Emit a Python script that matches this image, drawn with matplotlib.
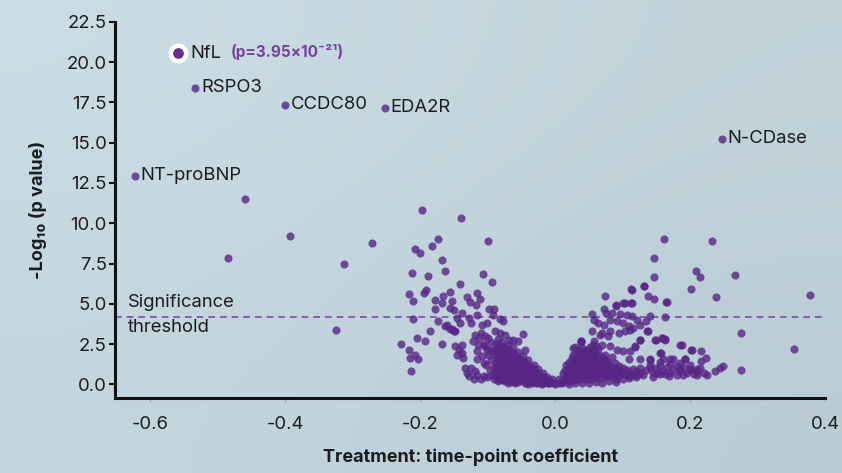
import matplotlib.pyplot as plt
import numpy as np

# labelled proteins
names = ["NfL", "RSPO3", "CCDC80", "EDA2R", "NT-proBNP", "N-CDase"]
names_x = [-0.5585, -0.533, -0.400, -0.252, -0.622, 0.247]
names_y = [20.56, 18.40, 17.35, 17.16, 12.96, 15.25]

# far outliers on the left
out_x = [-0.459, -0.393, -0.484, -0.313, -0.271, -0.324, -0.197, -0.140, -0.173, -0.183,
         -0.207, -0.200, -0.100, -0.168, -0.212, -0.188, -0.163, -0.107, -0.094, -0.141]
out_y = [11.48, 9.20, 7.84, 7.47, 8.77, 3.40, 10.82, 10.33, 9.01, 8.60,
         8.42, 8.13, 8.89, 7.74, 6.93, 6.73, 7.02, 6.83, 6.36, 6.21]

# left spread
spread_x = [-0.216, -0.211, -0.195, -0.191, -0.178, -0.166, -0.156, -0.153, -0.168, -0.178,
            -0.156, -0.150, -0.131, -0.126, -0.116, -0.111, -0.117, -0.098, -0.090, -0.092,
            -0.138, -0.146, -0.128, -0.116, -0.210, -0.173, -0.163, -0.156, -0.150, -0.186,
            -0.205, -0.193, -0.229, -0.217, -0.208, -0.215, -0.203, -0.213, -0.167, -0.048,
            -0.160, -0.153, -0.148, -0.141, -0.124, -0.108, -0.101, -0.077, -0.082, -0.148,
            -0.143, -0.138, -0.146, -0.136, -0.138, -0.133, -0.131, -0.128, -0.116, -0.106,
            -0.101]
spread_y = [5.62, 5.20, 5.64, 5.86, 5.25, 5.49, 5.75, 5.20, 5.04, 4.69,
            4.73, 4.59, 5.39, 5.08, 5.65, 5.28, 4.93, 4.68, 4.68, 4.32,
            4.42, 4.11, 4.11, 4.32, 4.07, 3.90, 3.64, 3.43, 3.29, 3.29,
            2.88, 2.68, 2.51, 2.16, 1.85, 1.65, 1.59, 0.82, 2.51, 3.13,
            3.70, 3.44, 3.30, 3.81, 3.81, 3.70, 3.81, 3.91, 4.05, 2.36,
            2.16, 1.95, 1.85, 1.64, 2.47, 1.03, 0.72, 0.51, 0.55, 0.51,
            0.47]

# left band (arm of the V)
band_x = [-0.119, -0.110, -0.104, -0.089, -0.082, -0.074, -0.069, -0.062, -0.055, -0.121,
          -0.114, -0.106, -0.101, -0.094, -0.116, -0.109, -0.116, -0.106, -0.100, -0.095,
          -0.105, -0.098, -0.100, -0.095, -0.102, -0.097, -0.093, -0.090, -0.085, -0.075,
          -0.065, -0.055, -0.045, -0.035, -0.025, -0.120, -0.110, -0.125, -0.118, -0.085,
          -0.078, -0.070, -0.062, -0.055, -0.048, -0.040, -0.032, -0.025, -0.018, -0.012,
          -0.005, -0.044, -0.060, -0.040, -0.020, -0.010, 0.000, -0.113, -0.091, -0.070]
band_y = [3.08, 3.18, 2.98, 3.29, 3.18, 3.08, 2.78, 2.78, 2.67, 2.67,
          2.47, 2.36, 2.16, 2.05, 2.05, 1.75, 1.54, 1.34, 2.90, 2.60,
          2.50, 2.20, 1.80, 1.50, 1.20, 0.90, 0.60, 0.35, 0.20, 0.18,
          0.15, 0.12, 0.10, 0.08, 0.06, 0.35, 0.30, 1.00, 0.80, 2.80,
          2.65, 2.45, 2.30, 2.00, 1.75, 1.50, 1.20, 0.95, 0.70, 0.45,
          0.30, 2.10, 0.05, 0.02, 0.00, 0.10, 0.05, 2.85, 1.10, 0.10]

# left dense core
lcore_x = [-0.088, -0.087, -0.089, -0.086, -0.088, -0.087, -0.089, -0.086,
           -0.080, -0.081, -0.079, -0.080, -0.081, -0.079, -0.080, -0.081,
           -0.072, -0.073, -0.071, -0.072, -0.073, -0.071, -0.072,
           -0.064, -0.065, -0.063, -0.064, -0.065, -0.063, -0.064,
           -0.056, -0.057, -0.055, -0.056, -0.057, -0.055,
           -0.048, -0.049, -0.047, -0.048, -0.049, -0.047,
           -0.040, -0.041, -0.039, -0.040, -0.041,
           -0.032, -0.033, -0.031, -0.032,
           -0.024, -0.025, -0.023,
           -0.016, -0.015, -0.008, -0.007,
           -0.084, -0.084, -0.085, -0.083, -0.084, -0.085, -0.083, -0.084,
           -0.076, -0.077, -0.075, -0.076, -0.077, -0.075, -0.076, -0.077,
           -0.068, -0.069, -0.067, -0.068, -0.069, -0.067, -0.068,
           -0.060, -0.061, -0.059, -0.060, -0.061, -0.059, -0.060,
           -0.052, -0.053, -0.051, -0.052, -0.053, -0.051,
           -0.044, -0.045, -0.043, -0.044, -0.045, -0.043,
           -0.036, -0.037, -0.035, -0.036, -0.037,
           -0.028, -0.029, -0.027, -0.028,
           -0.020, -0.021, -0.019, -0.012, -0.011]
lcore_y = [2.50, 2.20, 1.90, 1.60, 1.30, 1.00, 0.70, 0.45,
           2.40, 2.10, 1.80, 1.50, 1.20, 0.90, 0.60, 0.35,
           2.20, 1.90, 1.60, 1.30, 1.00, 0.70, 0.40,
           2.00, 1.70, 1.40, 1.10, 0.80, 0.50, 0.30,
           1.70, 1.45, 1.20, 0.90, 0.60, 0.35,
           1.45, 1.20, 0.95, 0.70, 0.45, 0.25,
           1.20, 0.95, 0.70, 0.45, 0.25,
           0.90, 0.65, 0.40, 0.20,
           0.60, 0.40, 0.20,
           0.35, 0.15, 0.20, 0.05,
           2.35, 2.05, 1.75, 1.45, 1.15, 0.85, 0.55, 0.30,
           2.30, 2.00, 1.65, 1.35, 1.05, 0.75, 0.50, 0.25,
           2.10, 1.80, 1.50, 1.20, 0.90, 0.60, 0.30,
           1.85, 1.55, 1.25, 0.95, 0.65, 0.40, 0.20,
           1.60, 1.30, 1.05, 0.75, 0.50, 0.25,
           1.30, 1.05, 0.80, 0.55, 0.30, 0.15,
           1.05, 0.80, 0.55, 0.30, 0.15,
           0.75, 0.50, 0.30, 0.10,
           0.50, 0.30, 0.10, 0.25, 0.10]

# right dense core
rcore_x = [0.005, 0.006, 0.012, 0.013, 0.011,
           0.020, 0.021, 0.019, 0.020, 0.021,
           0.028, 0.029, 0.027, 0.028, 0.029, 0.027,
           0.036, 0.037, 0.035, 0.036, 0.037, 0.035, 0.036,
           0.044, 0.045, 0.043, 0.044, 0.045, 0.043, 0.044,
           0.052, 0.053, 0.051, 0.052, 0.053, 0.051, 0.052,
           0.060, 0.061, 0.059, 0.060, 0.061, 0.059, 0.060,
           0.068, 0.069, 0.067, 0.068, 0.069,
           0.076, 0.077, 0.075, 0.076,
           0.085, 0.086, 0.084, 0.095, 0.096, 0.094,
           0.105, 0.106, 0.115, 0.116, 0.125, 0.126,
           0.000, 0.010, 0.020, 0.030, 0.040, 0.050, 0.060, 0.070, 0.080, 0.090,
           0.016, 0.017, 0.015, 0.016,
           0.024, 0.025, 0.023, 0.024, 0.025,
           0.032, 0.033, 0.031, 0.032, 0.033, 0.031,
           0.040, 0.041, 0.039, 0.040, 0.041, 0.039, 0.040,
           0.048, 0.049, 0.047, 0.048, 0.049, 0.047,
           0.056, 0.057, 0.055, 0.056, 0.057, 0.055, 0.056,
           0.064, 0.065, 0.063, 0.064, 0.065, 0.063,
           0.072, 0.073, 0.071, 0.072,
           0.080, 0.081, 0.079, 0.090, 0.091, 0.100, 0.101,
           0.110, 0.111, 0.120, 0.121]
rcore_y = [0.10, 0.30, 0.15, 0.40, 0.70,
           0.20, 0.50, 0.80, 1.10, 1.40,
           0.25, 0.55, 0.85, 1.15, 1.50, 1.80,
           0.30, 0.60, 0.90, 1.20, 1.50, 1.80, 2.10,
           0.30, 0.60, 0.90, 1.20, 1.50, 1.80, 2.10,
           0.35, 0.65, 0.95, 1.25, 1.60, 1.95, 2.30,
           0.40, 0.70, 1.00, 1.30, 1.65, 2.00, 2.35,
           0.40, 0.70, 1.00, 1.35, 1.70,
           0.45, 0.75, 1.05, 1.40,
           0.50, 0.80, 1.10, 0.55, 0.85, 1.15,
           0.60, 0.90, 0.65, 0.95, 0.70, 1.00,
           0.00, 0.05, 0.00, 0.08, 0.10, 0.05, 0.15, 0.10, 0.20, 0.15,
           0.30, 0.60, 0.90, 1.20,
           0.35, 0.65, 1.00, 1.30, 1.65,
           0.40, 0.75, 1.05, 1.35, 1.65, 1.95,
           0.45, 0.75, 1.05, 1.35, 1.65, 1.95, 2.25,
           0.45, 0.80, 1.10, 1.40, 1.75, 2.10,
           0.50, 0.80, 1.10, 1.45, 1.80, 2.15, 2.45,
           0.55, 0.85, 1.15, 1.50, 1.85, 2.20,
           0.55, 0.85, 1.20, 1.55,
           0.60, 0.90, 1.25, 0.65, 0.95, 0.70, 1.00,
           0.75, 0.50, 0.80, 0.55]

# right plume and scattered points
plume_x = [0.146, 0.131, 0.113, 0.137, 0.146, 0.164, 0.074, 0.090, 0.101, 0.112,
           0.072, 0.054, 0.076, 0.084, 0.096, 0.106, 0.114, 0.121, 0.135, 0.141,
           0.163, 0.057, 0.064, 0.072, 0.081, 0.091, 0.101, 0.109, 0.116, 0.126,
           0.054, 0.069, 0.079, 0.094, 0.104, 0.111, 0.126, 0.137, 0.148, 0.158,
           0.163, 0.039, 0.057, 0.069, 0.081, 0.091, 0.101, 0.111, 0.118, 0.027,
           0.074, 0.084, 0.077, 0.064, 0.089, 0.109, 0.126, 0.141, 0.156, 0.170,
           0.185, 0.202, 0.193, 0.180, 0.156, 0.141, 0.151, 0.163, 0.038, 0.103,
           0.114, 0.090, 0.165, 0.114, 0.131, 0.150, 0.158, 0.162, 0.157, 0.081,
           0.067, 0.0385, 0.0296, 0.136, 0.126, 0.119]
plume_y = [6.65, 6.11, 5.90, 5.51, 5.29, 5.10, 5.51, 4.90, 5.04, 5.04,
           4.67, 4.38, 4.42, 4.42, 4.38, 4.32, 4.22, 4.01, 3.91, 4.26,
           4.18, 4.01, 3.81, 3.70, 4.01, 3.91, 3.81, 3.60, 3.50, 3.70,
           3.29, 3.18, 2.98, 3.18, 3.29, 3.39, 2.73, 3.29, 2.78, 2.88,
           2.78, 2.70, 2.68, 2.47, 2.36, 2.16, 2.05, 2.05, 2.32, 2.26,
           1.85, 1.70, 1.44, 1.34, 1.34, 1.54, 1.54, 1.54, 1.95, 1.54,
           2.47, 2.12, 1.54, 1.13, 1.13, 1.03, 0.72, 0.62, 2.63, 5.02,
           5.02, 4.86, 5.08, 5.88, 6.09, 2.78, 2.88, 2.84, 1.93, 3.29,
           3.09, 2.68, 2.33, 3.29, 2.74, 2.37]

# right tail and far right outliers
tail_x = [0.130, 0.135, 0.140, 0.145, 0.150, 0.155, 0.160, 0.165, 0.170, 0.175,
          0.180, 0.185, 0.190, 0.195, 0.200, 0.205, 0.210, 0.215, 0.220, 0.225,
          0.140, 0.155, 0.170, 0.160, 0.175, 0.185, 0.200, 0.190, 0.210, 0.168,
          0.145, 0.120, 0.110, 0.100, 0.090, 0.188, 0.201, 0.216, 0.224, 0.193,
          0.216, 0.249, 0.244, 0.237, 0.276, 0.276, 0.354, 0.377, 0.201, 0.238,
          0.267, 0.214, 0.208, 0.161, 0.232, 0.146, 0.185, 0.200, 0.210]
tail_y = [0.60, 0.90, 1.20, 0.70, 1.00, 0.65, 0.85, 1.10, 0.70, 0.95,
          0.60, 0.80, 1.05, 0.70, 0.90, 0.65, 0.80, 1.00, 0.70, 0.60,
          1.50, 1.40, 1.30, 1.60, 1.55, 1.35, 1.20, 0.55, 0.55, 0.50,
          0.45, 0.45, 0.40, 0.35, 0.30, 2.47, 2.12, 2.08, 1.63, 1.58,
          1.44, 1.13, 1.03, 0.82, 0.88, 3.19, 2.20, 5.57, 5.91, 5.39,
          6.79, 6.69, 7.04, 9.01, 8.89, 7.84, 0.93, 0.93, 0.93]

threshold = 4.2
purple = "#582586"
fam = ["Inter", "DejaVu Sans"]
plt.rcParams["font.family"] = fam

fig = plt.figure(figsize=(8.42, 4.73), dpi=100)

# background gradient
bg = fig.add_axes([0, 0, 1, 1], zorder=0)
grad = np.array([[[203, 221, 228], [194, 211, 218]],
                 [[196, 214, 221], [186, 204, 212]]]) / 255.0
bg.imshow(grad, extent=[0, 1, 0, 1], aspect="auto", interpolation="bicubic")
bg.axis("off")

ax = fig.add_axes([0.1366, 0.1586, 0.8434, 0.795], zorder=1)
ax.patch.set_alpha(0)

all_x = out_x + spread_x + band_x + lcore_x + rcore_x + plume_x + tail_x + names_x[1:]
all_y = out_y + spread_y + band_y + lcore_y + rcore_y + plume_y + tail_y + names_y[1:]
ax.scatter(all_x, all_y, s=34, color=purple, alpha=0.8, linewidths=0, zorder=3)

# NfL highlighted
ax.scatter(names_x[0], names_y[0], s=200, color="white", linewidths=0, zorder=4)
ax.scatter(names_x[0], names_y[0], s=60, color="#6a2f93", linewidths=0, zorder=5)

for i, n in enumerate(names):
    off = 9 if n == "NfL" else 4
    ax.annotate(n, (names_x[i], names_y[i]), xytext=(off, 0), textcoords="offset points",
                va="center", ha="left", fontsize=13.3, color="#1c1c1c", zorder=6)
ax.annotate("(p=3.95×10⁻²¹)", (names_x[0], names_y[0]), xytext=(38, 0.5),
            textcoords="offset points", va="center", ha="left", fontsize=11,
            fontweight="bold", color="#7a3f9f", zorder=6)

ax.axhline(threshold, color="#7a4aa8", lw=1.2, ls=(0, (4, 3)), zorder=2)
ax.text(-0.633, 5.05, "Significance", fontsize=13.3, color="#1c1c1c", va="center")
ax.text(-0.633, 3.55, "threshold", fontsize=13.3, color="#1c1c1c", va="center")

ax.set_xlim(-0.652, 0.4)
ax.set_ylim(-0.85, 22.5)
ax.set_xticks([-0.6, -0.4, -0.2, 0.0, 0.2, 0.4])
ax.set_yticks([0, 2.5, 5, 7.5, 10, 12.5, 15, 17.5, 20, 22.5])
ax.xaxis.set_major_formatter(plt.FuncFormatter(lambda v, p: f"{v:.1f}"))
ax.yaxis.set_major_formatter(plt.FuncFormatter(lambda v, p: f"{v:.1f}"))
for s in ["top", "right"]:
    ax.spines[s].set_visible(False)
for s in ["left", "bottom"]:
    ax.spines[s].set_linewidth(2.2)
    ax.spines[s].set_color("#111111")
ax.tick_params(axis="y", length=4, width=1.5, color="#111111", labelsize=13.3, pad=2,
               labelcolor="#1c1c1c")
ax.tick_params(axis="x", length=3, width=0.8, color="#9aa8ae", labelsize=13.3, pad=10,
               labelcolor="#1c1c1c")

ax.set_xlabel("Treatment: time-point coefficient", fontsize=13, fontweight="bold",
              color="#1c1c1c", labelpad=11)
ax.set_ylabel("-Log₁₀ (p value)", fontsize=13, fontweight="bold", color="#1c1c1c",
              labelpad=14)

fig.savefig("out.png", dpi=100)
